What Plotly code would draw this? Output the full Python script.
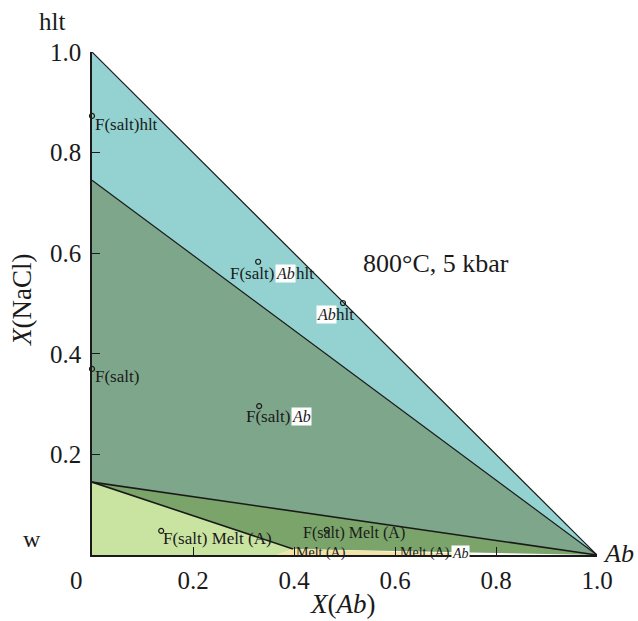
import plotly.graph_objects as go

# ---- data (mole fractions) ----
hlt_field_x = [0, 1, 0]
hlt_field_y = [1, 0, 0.745]
ab_field_x = [0, 1, 0]
ab_field_y = [0.745, 0, 0.145]
melt_ab_field_x = [0, 1, 0.398]
melt_ab_field_y = [0.145, 0, 0.012]
melt_salt_field_x = [0, 0, 0.366, 0.398]
melt_salt_field_y = [0.145, 0, 0, 0.012]
melt_field_x = [0.366, 0.398, 0.75, 0.75]
melt_field_y = [0, 0.012, 0.003, 0]

boundary_lines = [
    ([0, 1], [1, 0], 1.2),
    ([0, 1], [0.745, 0], 1.2),
    ([0, 1], [0.145, 0], 1.6),
    ([0, 0.398], [0.145, 0.012], 1.6),
]

point_x = [0, 0, 0.329, 0.497, 0.331, 0.137, 0.465]
point_y = [0.873, 0.370, 0.583, 0.501, 0.296, 0.048, 0.050]

tick_vals = [0.2, 0.4, 0.6, 0.8, 1.0]
tick_text = ["0.2", "0.4", "0.6", "0.8", "1.0"]

FONT = "Liberation Serif"
INK = "#1a1a1a"

fig = go.Figure()

def poly(xs, ys, color):
    fig.add_trace(go.Scatter(x=xs + [xs[0]], y=ys + [ys[0]], fill="toself",
                             fillcolor=color, mode="lines", line=dict(width=0),
                             hoverinfo="skip", showlegend=False))

poly(hlt_field_x, hlt_field_y, "#93d2d1")
poly(ab_field_x, ab_field_y, "#7ea68b")
poly(melt_ab_field_x, melt_ab_field_y, "#7aa46a")
poly(melt_salt_field_x, melt_salt_field_y, "#c9e3a1")
poly(melt_field_x, melt_field_y, "#f3e3a6")

for xs, ys, w in boundary_lines:
    fig.add_trace(go.Scatter(x=xs, y=ys, mode="lines", line=dict(color=INK, width=w),
                             hoverinfo="skip", showlegend=False))

fig.add_trace(go.Scatter(x=point_x, y=point_y, mode="markers",
                         marker=dict(symbol="circle-open", size=5, color=INK,
                                     line=dict(width=1.2, color=INK)),
                         hoverinfo="skip", showlegend=False, cliponaxis=False))

def px_x(p):
    return (p - 92) / 505.0

def px_y(p):
    return (555 - p) / 503.0

def ann(text, x, y, size=17, xanchor="left", bg=None, **kw):
    d = dict(text=text, x=x, y=y, xref="paper", yref="paper", showarrow=False,
             xanchor=xanchor, yanchor="middle",
             font=dict(family=FONT, size=size, color=INK), borderpad=0)
    if bg:
        d["bgcolor"] = bg
    d.update(kw)
    fig.add_annotation(**d)

# field labels
ann("F(salt)hlt", px_x(94), px_y(125))
ann("F(salt)", px_x(275), px_y(273), xanchor="right")
ann("<i>Ab</i>", px_x(275), px_y(273), size=16, bg="white")
ann("hlt", px_x(295), px_y(273))
ann("<i>Ab</i>", px_x(316), px_y(314), size=16, bg="white")
ann("hlt", px_x(335), px_y(314))
ann("F(salt)", px_x(94), px_y(377))
ann("F(salt)", px_x(291), px_y(416), xanchor="right")
ann("<i>Ab</i>", px_x(291), px_y(416), size=16, bg="white")
ann("F(salt) Melt (A)", px_x(162), px_y(538))
ann("F(salt) Melt (A)", px_x(302), px_y(533), size=16)
ann("Melt (A)", px_x(295), px_y(553), size=14)
ann("Melt (A)", px_x(451), px_y(553), size=14, xanchor="right")
ann("<i>Ab</i>", px_x(451), px_y(553), size=14, bg="white")

# corner / title labels
ann("800°C, 5 kbar", px_x(436), px_y(263), size=26, xanchor="center")
ann("hlt", px_x(52), px_y(22), size=25, xanchor="center")
ann("w", px_x(32), px_y(539), size=24, xanchor="center")
ann("0", px_x(76), px_y(580), size=25, xanchor="center")
ann("<i>Ab</i>", px_x(602), px_y(553), size=26)
ann("<i>X</i>(<i>Ab</i>)", px_x(343), px_y(604), size=27, xanchor="center")
ann("<i>X</i>(NaCl)", px_x(22), px_y(300), size=27, xanchor="center", textangle=-90)

axis_common = dict(range=[0, 1], showgrid=False, zeroline=False, showline=True,
                   linecolor=INK, linewidth=1.5, ticks="inside", ticklen=8,
                   tickwidth=1.2, tickcolor=INK, tickvals=tick_vals, ticktext=tick_text,
                   tickfont=dict(family=FONT, size=25, color=INK), fixedrange=True)

fig.update_xaxes(**axis_common, ticklabelstandoff=2)
fig.update_yaxes(**axis_common, ticklabelstandoff=4)

fig.update_layout(width=638, height=621, margin=dict(l=92, r=41, t=52, b=66),
                  plot_bgcolor="white", paper_bgcolor="white", showlegend=False)

fig.write_html("out.html")
